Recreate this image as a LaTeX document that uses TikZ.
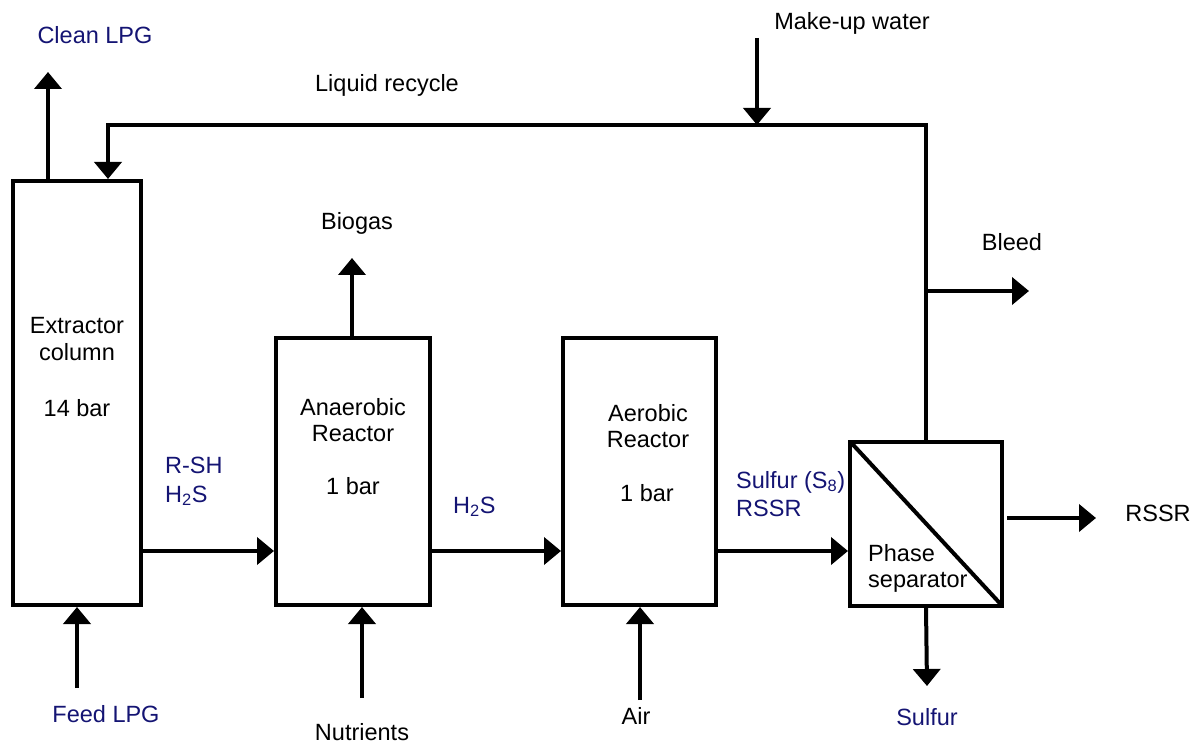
\documentclass[tikz,border=0pt]{standalone}
\usepackage{fontspec}
\setmainfont{Liberation Sans}
\usetikzlibrary{arrows.meta}
\definecolor{navy}{RGB}{20,20,115}
\begin{document}
\begin{tikzpicture}[x=1pt,y=-1pt,
  font=\fontsize{23.5}{27}\selectfont,
  unit/.style={draw,line width=4pt,inner sep=0pt},
  flow/.style={line width=4pt,-{Triangle[width=27pt,length=17pt]}},
  pipe/.style={line width=4pt},
  lbl/.style={anchor=base,inner sep=0pt},
  blue lbl/.style={lbl,text=navy}]
\useasboundingbox (0,0) rectangle (1199,743);
% units
\node[unit,minimum width=128pt,minimum height=424pt] (ext) at (77,393) {};
\node[unit,minimum width=154pt,minimum height=267pt] (ana) at (353,471.5) {};
\node[unit,minimum width=153pt,minimum height=267pt] (aer) at (639.5,471.5) {};
\node[unit,minimum width=152pt,minimum height=164pt] (ps) at (926,523.5) {};
\draw[pipe] ([shift={(2.5,2.5)}]ps.north west) -- ([shift={(-2.5,-2.5)}]ps.south east);
% unit texts
\node[lbl] (ext1) at (77,334) {Extractor};
\node[lbl] (ext2) at (77,360) {column};
\node[lbl] (ext3) at (77,416) {14 bar};
\node[lbl] (ana1) at (353,415) {Anaerobic};
\node[lbl] (ana2) at (353,441) {Reactor};
\node[lbl] (ana3) at (353,494) {1 bar};
\node[lbl] (aer1) at (648,421) {Aerobic};
\node[lbl] (aer2) at (648,447) {Reactor};
\node[lbl] (aer3) at (647,501) {1 bar};
\node[lbl,anchor=base west] (ps1) at (868,561) {Phase};
\node[lbl,anchor=base west] (ps2) at (868,587) {separator};
% coordinates for free ends
\coordinate (cleanend) at (48,72);
\coordinate (feedstart) at (77,688);
\coordinate (nutstart) at (362,698);
\coordinate (airstart) at (640,700);
\coordinate (biogasend) at (352,258);
\coordinate (rcleft) at (108,125);
\coordinate (mwstart) at (757,38);
\coordinate (mwend) at (757,125);
\coordinate (bleedstart) at (927,291);
\coordinate (bleedend) at (1029,291);
\coordinate (rssrstart) at (1007,518);
\coordinate (rssrend) at (1096,518);
\coordinate (sulfend) at (927,686);
% streams
\draw[flow] (ext.north -| cleanend) -- (cleanend);
\draw[flow] (feedstart) -- (feedstart |- ext.south);
\draw[flow] (nutstart) -- (nutstart |- ana.south);
\draw[flow] (airstart) -- (airstart |- aer.south);
\draw[flow] (ana.north -| biogasend) -- (biogasend);
\draw[flow] (ps.north) |- (rcleft) -- (rcleft |- ext.north);
\draw[flow] (mwstart) -- (mwend);
\draw[flow] (bleedstart) -- (bleedend);
\draw[flow] (rssrstart) -- (rssrend);
\draw[flow] (ps.south) -- (sulfend);
\draw[flow] (ext.east |- 0,551) -- (ana.west |- 0,551);
\draw[flow] (ana.east |- 0,551) -- (aer.west |- 0,551);
\draw[flow] (aer.east |- 0,551) -- (ps.west |- 0,551);
% labels
\node[blue lbl] (cleanlbl) at (95,44) {Clean LPG};
\node[lbl] (mwlbl) at (852,30) {Make-up water};
\node[lbl] (rclbl) at (387,92) {Liquid recycle};
\node[lbl] (bleedlbl) at (1012,251) {Bleed};
\node[lbl] (biogaslbl) at (357,230) {Biogas};
\node[blue lbl,anchor=base west] (rsh) at (165,473) {R-SH};
\node[blue lbl,anchor=base west] (h2sa) at (165,502) {H\textsubscript{2}S};
\node[blue lbl,anchor=base west] (h2sb) at (453,513) {H\textsubscript{2}S};
\node[blue lbl,anchor=base west] (s8) at (736,488) {Sulfur (S\textsubscript{8})};
\node[blue lbl,anchor=base west] (rssra) at (736,516) {RSSR};
\node[lbl] (rssrlbl) at (1158,521) {RSSR};
\node[blue lbl] (sulflbl) at (927,725) {Sulfur};
\node[blue lbl] (feedlbl) at (106,722) {Feed LPG};
\node[lbl] (nutlbl) at (362,740) {Nutrients};
\node[lbl] (airlbl) at (636,724) {Air};
\end{tikzpicture}
\end{document}
